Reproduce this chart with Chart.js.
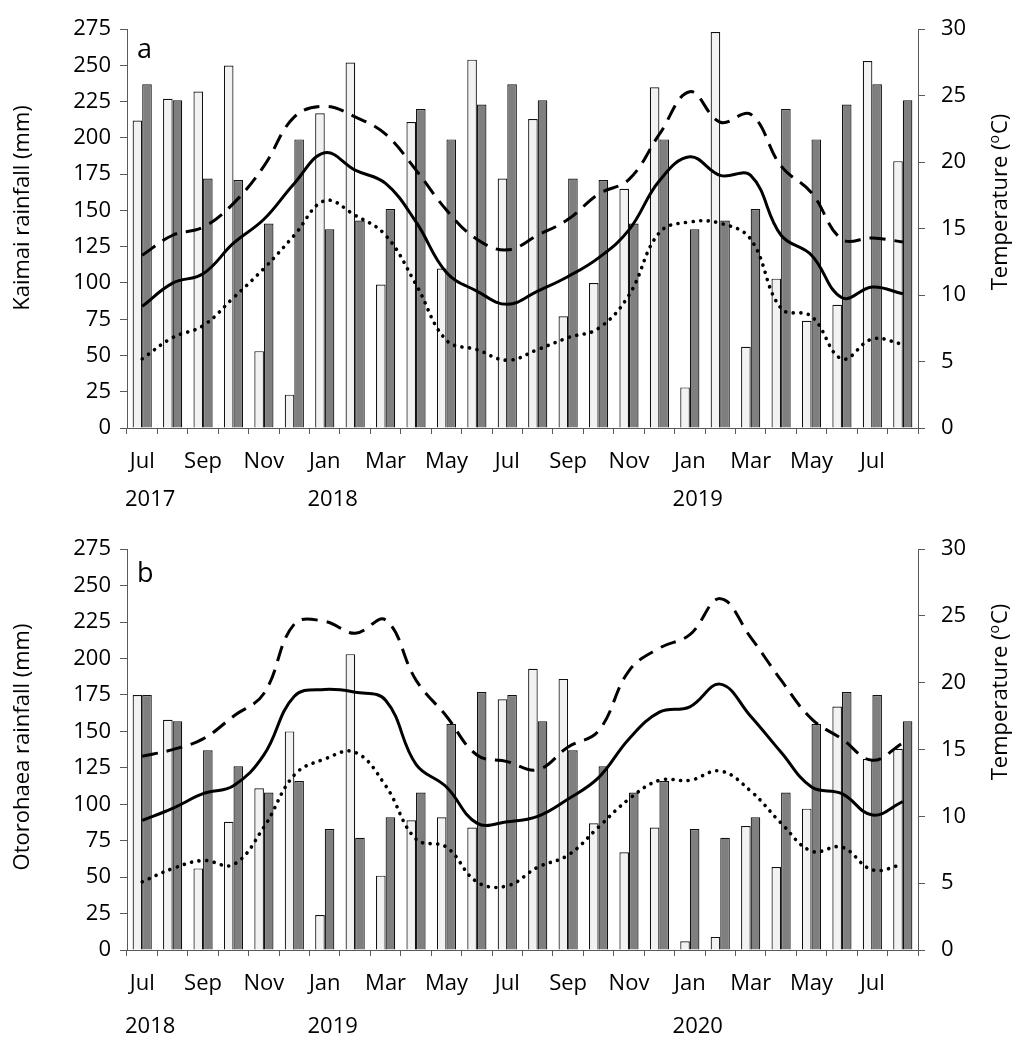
<!DOCTYPE html>
<html>
<head>
<meta charset="utf-8">
<script src="https://cdn.jsdelivr.net/npm/chart.js@4.4.1/dist/chart.umd.min.js"></script>
<style>
  html, body { margin: 0; padding: 0; background: #fff; }
  .panel { position: absolute; left: 0; width: 1016px; }
  #pa { top: 0; height: 520px; }
  #pb { top: 520px; height: 521px; }
</style>
</head>
<body>
<div class="panel" id="pa"><canvas id="ca" width="1016" height="520"></canvas></div>
<div class="panel" id="pb"><canvas id="cb" width="1016" height="521"></canvas></div>
<script>
// ---------- DATA ----------
const monthLabels = ['Jul','Aug','Sep','Oct','Nov','Dec','Jan','Feb','Mar','Apr','May','Jun',
                     'Jul','Aug','Sep','Oct','Nov','Dec','Jan','Feb','Mar','Apr','May','Jun','Jul','Aug'];
const yearsA = ['2017', '2018', '2019'];
const yearsB = ['2018', '2019', '2020'];
const yearStartIdx = [0, 6, 18];

const rainTicks = [0, 25, 50, 75, 100, 125, 150, 175, 200, 225, 250, 275];
const tempTicks = [0, 5, 10, 15, 20, 25, 30];

// Panel a (Kaimai)
const rainA_obs = [212, 227, 232, 250, 53, 23, 217, 252, 99, 211, 110, 254,
                   172, 213, 77, 100, 165, 235, 28, 273, 56, 103, 74, 85, 253, 184];
const rainA_avg = [237, 226, 172, 171, 141, 199, 137, 143, 151, 220, 199, 223,
                   237, 226, 172, 171, 141, 199, 137, 143, 151, 220, 199, 223, 237, 226];
const tmaxA = [13.0, 14.5, 15.1, 16.9, 19.7, 23.4, 24.2, 23.4, 22.1, 19.4, 16.4, 14.2,
               13.4, 14.5, 15.7, 17.6, 18.7, 22.1, 25.3, 23.0, 23.6, 19.7, 17.7, 14.2, 14.3, 14.0];
const tmeanA = [9.15, 10.9, 11.6, 13.9, 15.7, 18.4, 20.7, 19.4, 18.4, 15.5, 11.7, 10.3,
                9.3, 10.3, 11.4, 12.8, 14.9, 18.6, 20.4, 19.0, 19.0, 14.5, 13.0, 9.8, 10.6, 10.1];
const tminA = [5.2, 6.8, 7.7, 9.8, 12.0, 14.5, 17.1, 16.0, 14.5, 10.8, 6.6, 5.9,
               5.1, 5.9, 6.8, 7.5, 10.0, 14.7, 15.5, 15.4, 14.2, 9.0, 8.4, 5.2, 6.7, 6.3];

// Panel b (Otorohaea)
const rainB_obs = [175, 158, 56, 88, 111, 150, 24, 203, 51, 89, 91, 84,
                   172, 193, 186, 87, 67, 84, 6, 9, 85, 57, 97, 167, 131, 138];
const rainB_avg = [175, 157, 137, 126, 108, 116, 83, 77, 91, 108, 155, 177,
                   175, 157, 137, 126, 108, 116, 83, 77, 91, 108, 155, 177, 175, 157];
const tmaxB = [14.5, 15.0, 15.8, 17.5, 19.2, 24.4, 24.6, 23.7, 24.7, 20.2, 17.5, 14.6,
               14.1, 13.5, 15.2, 16.4, 20.9, 22.6, 23.6, 26.3, 23.4, 20.2, 17.3, 15.8, 14.2, 15.5];
const tmeanB = [9.7, 10.6, 11.7, 12.3, 14.6, 19.0, 19.5, 19.3, 18.7, 13.9, 12.2, 9.5,
                9.6, 10.0, 11.3, 12.9, 15.8, 17.8, 18.2, 19.9, 17.5, 14.8, 12.2, 11.7, 10.1, 11.1];
const tminB = [5.1, 6.1, 6.7, 6.4, 9.2, 13.1, 14.3, 14.8, 12.3, 8.3, 7.7, 5.1,
               4.8, 6.2, 7.1, 9.2, 11.3, 12.7, 12.7, 13.4, 11.9, 9.5, 7.4, 7.7, 6.0, 6.4];

// ---------- STYLE ----------
const FONT = "'Open Sans', 'Liberation Sans', sans-serif";
const AXIS_COLOR = '#595959';
const FS = 22;

const textPlugin = {
  id: 'panelText',
  afterDraw(chart, args, opts) {
    const ctx = chart.ctx;
    const area = chart.chartArea;
    const xs = chart.scales.x;
    const step = xs.getPixelForValue(1) - xs.getPixelForValue(0);
    ctx.save();
    ctx.fillStyle = '#000';
    // panel letter
    ctx.font = '27px ' + FONT;
    ctx.textAlign = 'left';
    ctx.textBaseline = 'alphabetic';
    ctx.fillText(opts.letter, area.left + 10, area.top + opts.letterDy);
    // year labels
    ctx.font = FS + 'px ' + FONT;
    ctx.textBaseline = 'middle';
    opts.years.forEach((t, i) => {
      const x = xs.getPixelForValue(yearStartIdx[i]) - step / 2;
      ctx.fillText(t, x - 2, area.bottom + opts.yearDy);
    });
    // left title
    ctx.save();
    ctx.translate(opts.leftX, opts.leftY);
    ctx.rotate(-Math.PI / 2);
    ctx.textAlign = 'center';
    ctx.textBaseline = 'middle';
    ctx.fillText(opts.leftTitle, 0, 0);
    ctx.restore();
    // right title with superscript o
    ctx.save();
    ctx.translate(opts.rightX, opts.rightY);
    ctx.rotate(-Math.PI / 2);
    ctx.textBaseline = 'middle';
    const p1 = 'Temperature (', p2 = 'o', p3 = 'C)';
    ctx.font = FS + 'px ' + FONT;
    const w1 = ctx.measureText(p1).width, w3 = ctx.measureText(p3).width;
    ctx.font = '14px ' + FONT;
    const w2 = ctx.measureText(p2).width + 1;
    const total = w1 + w2 + w3;
    const x0 = -total / 2;
    ctx.textAlign = 'left';
    ctx.font = FS + 'px ' + FONT;
    ctx.fillText(p1, x0, 0);
    ctx.font = '14px ' + FONT;
    ctx.fillText(p2, x0 + w1, -6);
    ctx.font = FS + 'px ' + FONT;
    ctx.fillText(p3, x0 + w1 + w2, 0);
    ctx.restore();
    ctx.restore();
  }
};

function makeChart(canvasId, obs, avg, tmax, tmean, tmin, topPad, plotH, canvasH, textOpts) {
  const xHeight = canvasH - topPad - plotH;
  const lineBase = {
    type: 'line', yAxisID: 'y1', borderColor: '#000', borderWidth: 3,
    pointRadius: 0, pointHoverRadius: 0, fill: false, tension: 0.4,
    borderJoinStyle: 'round', order: 0
  };
  return new Chart(document.getElementById(canvasId), {
    type: 'bar',
    data: {
      labels: monthLabels,
      datasets: [
        { label: 'Observed rainfall', data: obs, yAxisID: 'y', backgroundColor: '#f2f2f2',
          borderColor: '#111', borderWidth: 1.2, order: 1,
          categoryPercentage: 0.63, barPercentage: 1.0 },
        { label: 'Long-term rainfall', data: avg, yAxisID: 'y', backgroundColor: '#7f7f7f',
          borderColor: '#111', borderWidth: 1.2, order: 1,
          categoryPercentage: 0.63, barPercentage: 1.0 },
        Object.assign({}, lineBase, { label: 'Max temperature', data: tmax, borderDash: [16, 9], borderCapStyle: 'butt' }),
        Object.assign({}, lineBase, { label: 'Mean temperature', data: tmean }),
        Object.assign({}, lineBase, { label: 'Min temperature', data: tmin, borderDash: [0.1, 7.5], borderCapStyle: 'round', borderWidth: 3.6 })
      ]
    },
    options: {
      responsive: false,
      animation: false,
      devicePixelRatio: 1,
      layout: { padding: { top: topPad, left: 0, right: 0, bottom: 0 } },
      plugins: {
        legend: { display: false },
        tooltip: { enabled: false },
        panelText: textOpts
      },
      scales: {
        x: {
          type: 'category',
          offset: true,
          grid: { display: true, drawOnChartArea: false, offset: true, color: AXIS_COLOR, tickLength: 6, tickWidth: 1 },
          border: { display: true, color: AXIS_COLOR, width: 1 },
          ticks: {
            autoSkip: false, maxRotation: 0, minRotation: 0, padding: 15,
            color: '#000', font: { family: FONT, size: FS },
            callback: function (v, i) { return i % 2 === 0 ? this.getLabelForValue(v) : ''; }
          },
          afterFit: (s) => { s.height = xHeight; }
        },
        y: {
          position: 'left', min: 0, max: 275,
          afterBuildTicks: (s) => { s.ticks = rainTicks.map(v => ({ value: v })); },
          grid: { display: true, drawOnChartArea: false, color: AXIS_COLOR, tickLength: 7 },
          border: { display: true, color: AXIS_COLOR, width: 1 },
          ticks: { color: '#000', font: { family: FONT, size: FS }, padding: 9 },
          afterFit: (s) => { s.width = 127; }
        },
        y1: {
          position: 'right', min: 0, max: 30,
          afterBuildTicks: (s) => { s.ticks = tempTicks.map(v => ({ value: v })); },
          grid: { display: true, drawOnChartArea: false, color: AXIS_COLOR, tickLength: 7 },
          border: { display: true, color: AXIS_COLOR, width: 1 },
          ticks: { color: '#000', font: { family: FONT, size: FS }, padding: 16 },
          afterFit: (s) => { s.width = 98; }
        }
      }
    },
    plugins: [textPlugin]
  });
}

makeChart('ca', rainA_obs, rainA_avg, tmaxA, tmeanA, tminA, 24, 404, 520, {
  letter: 'a', letterDy: 29, years: yearsA, yearDy: 72,
  leftTitle: 'Kaimai rainfall (mm)', leftX: 23, leftY: 208,
  rightX: 1001, rightY: 202
});
makeChart('cb', rainB_obs, rainB_avg, tmaxB, tmeanB, tminB, 19, 411, 521, {
  letter: 'b', letterDy: 33, years: yearsB, yearDy: 77,
  leftTitle: 'Otorohaea rainfall (mm)', leftX: 23, leftY: 227,
  rightX: 1001, rightY: 172
});
</script>
</body>
</html>
